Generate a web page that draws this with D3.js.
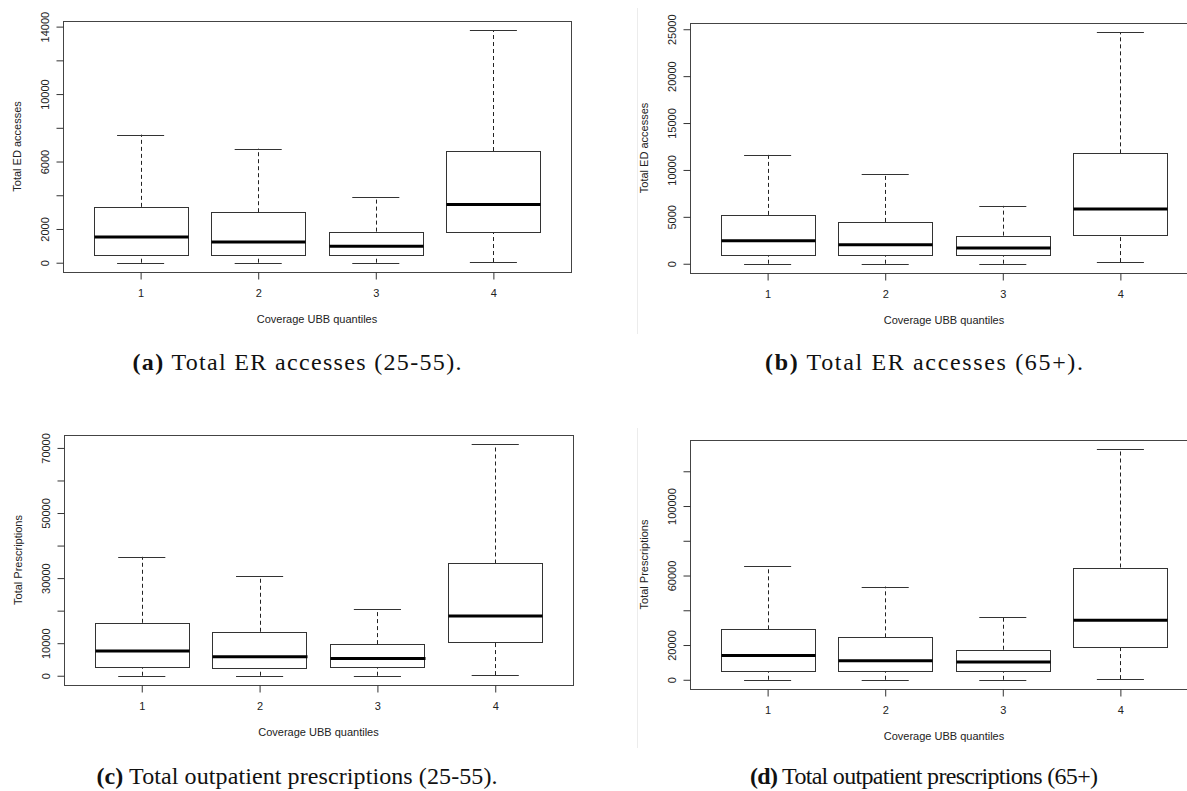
<!DOCTYPE html>
<html>
<head>
<meta charset="utf-8">
<script src="https://cdn.jsdelivr.net/npm/d3@7"></script>
<style>
  body { margin: 0; background: #fff; }
  .axis text { font-family: "Liberation Sans", Arial, sans-serif; font-size: 11px; fill: #222; }
  .axis line { stroke: #333; }
  .axisTitle { font-family: "Liberation Sans", Arial, sans-serif; font-size: 11px; fill: #222; }
  .caption { font-family: "Liberation Serif", "Times New Roman", serif; font-size: 24px; fill: #111; }
</style>
</head>
<body>
<div class="chart"></div>
<script>
var svgWidth = 1187;
var svgHeight = 791;

// Data: five-number summaries per quantile group [lower whisker, Q1, median, Q3, upper whisker]
var groups = [1, 2, 3, 4];

var erYoung = [
  [0, 456, 1527, 3311, 7595],
  [0, 456, 1229, 2994, 6762],
  [0, 456, 972, 1844, 3906],
  [40, 1824, 3450, 6623, 13782]
];
var erOld = [
  [0, 927, 2461, 5207, 11626],
  [0, 927, 2033, 4458, 9593],
  [0, 927, 1676, 2996, 6170],
  [178, 3067, 5849, 11769, 24679]
];
var rxYoung = [
  [0, 2558, 7573, 16272, 36536],
  [0, 2354, 5833, 13509, 30498],
  [0, 2558, 5322, 9723, 20366],
  [205, 10234, 18319, 34490, 71129]
];
var rxOld = [
  [0, 5000, 14038, 29038, 65385],
  [0, 5000, 10962, 24423, 53654],
  [0, 5000, 10192, 17308, 36154],
  [385, 18846, 34231, 64615, 132692]
];

// Tick values and which of them get labels
var erYoungTicks = [0, 2000, 4000, 6000, 8000, 10000, 12000, 14000];
var erYoungLabels = [0, 2000, 6000, 10000, 14000];
var erOldTicks = [0, 5000, 10000, 15000, 20000, 25000];
var erOldLabels = [0, 5000, 10000, 15000, 20000, 25000];
var rxYoungTicks = [0, 10000, 20000, 30000, 40000, 50000, 60000, 70000];
var rxYoungLabels = [0, 10000, 30000, 50000, 70000];
var rxOldTicks = [0, 20000, 40000, 60000, 80000, 100000, 120000];
var rxOldLabels = [0, 20000, 60000, 100000];

var panels = [
  { stats: erYoung, ticks: erYoungTicks, labels: erYoungLabels, yTitle: "Total ED accesses",
    box: { left: 63, right: 571, top: 21, bottom: 272 } },
  { stats: erOld, ticks: erOldTicks, labels: erOldLabels, yTitle: "Total ED accesses",
    box: { left: 690, right: 1198, top: 23, bottom: 273 } },
  { stats: rxYoung, ticks: rxYoungTicks, labels: rxYoungLabels, yTitle: "Total Prescriptions",
    box: { left: 64, right: 573, top: 435, bottom: 685 } },
  { stats: rxOld, ticks: rxOldTicks, labels: rxOldLabels, yTitle: "Total Prescriptions",
    box: { left: 690, right: 1198, top: 440, bottom: 689 } }
];

var captions = [
  { tag: "(a)", text: " Total ER accesses (25-55).", x: 297, y: 370, len: 329 },
  { tag: "(b)", text: " Total ER accesses (65+).", x: 924, y: 370, len: 318 },
  { tag: "(c)", text: " Total outpatient prescriptions (25-55).", x: 297, y: 784, len: 401 },
  { tag: "(d)", text: " Total outpatient prescriptions (65+)", x: 924, y: 784, len: 348 }
];

var svg = d3.select(".chart")
  .append("svg")
  .attr("width", svgWidth)
  .attr("height", svgHeight)
  .style("display", "block");

svg.append("rect").attr("width", svgWidth).attr("height", svgHeight).attr("fill", "#fff");

// faint border of the embedded right-hand images
svg.append("line").attr("x1", 637.5).attr("x2", 637.5).attr("y1", 8).attr("y2", 334)
  .attr("stroke", "#ececec");
svg.append("line").attr("x1", 637.5).attr("x2", 637.5).attr("y1", 428).attr("y2", 748)
  .attr("stroke", "#ececec");

panels.forEach(function(p) {
  var b = p.box;
  var lo = d3.min(p.stats, d => d[0]);
  var hi = d3.max(p.stats, d => d[4]);
  var pad = (hi - lo) * 0.04;

  // R-style scales: 4% extension on each side
  var x = d3.scaleLinear().domain([0.34, 4.66]).range([b.left, b.right]);
  var y = d3.scaleLinear().domain([lo - pad, hi + pad]).range([b.bottom, b.top]);

  var g = svg.append("g");

  // Boxes
  var bw = x(1.4) - x(1);
  var cw = x(1.2) - x(1);
  var boxes = g.selectAll(".bx")
    .data(p.stats)
    .enter()
    .append("g");

  // dashed whiskers
  boxes.append("line")
    .attr("x1", (d, i) => Math.round(x(groups[i])) + 0.5)
    .attr("x2", (d, i) => Math.round(x(groups[i])) + 0.5)
    .attr("y1", d => y(d[3]))
    .attr("y2", d => y(d[4]))
    .attr("stroke", "#222")
    .attr("stroke-dasharray", "4,3");
  boxes.append("line")
    .attr("x1", (d, i) => Math.round(x(groups[i])) + 0.5)
    .attr("x2", (d, i) => Math.round(x(groups[i])) + 0.5)
    .attr("y1", d => y(d[0]))
    .attr("y2", d => y(d[1]))
    .attr("stroke", "#222")
    .attr("stroke-dasharray", "4,3");

  // caps
  boxes.append("line")
    .attr("x1", (d, i) => x(groups[i]) - cw)
    .attr("x2", (d, i) => x(groups[i]) + cw)
    .attr("y1", d => Math.round(y(d[4])) + 0.5)
    .attr("y2", d => Math.round(y(d[4])) + 0.5)
    .attr("stroke", "#333");
  boxes.append("line")
    .attr("x1", (d, i) => x(groups[i]) - cw)
    .attr("x2", (d, i) => x(groups[i]) + cw)
    .attr("y1", d => Math.round(y(d[0])) + 0.5)
    .attr("y2", d => Math.round(y(d[0])) + 0.5)
    .attr("stroke", "#333");

  // box body
  boxes.append("rect")
    .attr("x", (d, i) => Math.round(x(groups[i]) - bw) + 0.5)
    .attr("width", Math.round(2 * bw))
    .attr("y", d => Math.round(y(d[3])) + 0.5)
    .attr("height", d => Math.round(y(d[1])) - Math.round(y(d[3])))
    .attr("fill", "#fff")
    .attr("stroke", "#333");

  // median
  boxes.append("line")
    .attr("x1", (d, i) => Math.round(x(groups[i]) - bw) + 0.5)
    .attr("x2", (d, i) => Math.round(x(groups[i]) + bw) + 0.5)
    .attr("y1", d => y(d[2]))
    .attr("y2", d => y(d[2]))
    .attr("stroke", "#000")
    .attr("stroke-width", 3);

  // Frame
  g.append("rect")
    .attr("x", b.left + 0.5)
    .attr("y", b.top + 0.5)
    .attr("width", b.right - b.left)
    .attr("height", b.bottom - b.top)
    .attr("fill", "none")
    .attr("stroke", "#444");

  // Y axis
  var leftAxis = d3.axisLeft(y)
    .tickValues(p.ticks)
    .tickSizeOuter(0)
    .tickSizeInner(7)
    .tickFormat(v => p.labels.indexOf(v) >= 0 ? String(v) : "");

  var ya = g.append("g")
    .attr("class", "axis")
    .attr("transform", `translate(${b.left + 0.5}, 0)`)
    .call(leftAxis);
  ya.select(".domain").remove();
  ya.selectAll("text")
    .attr("transform", "rotate(-90)")
    .attr("x", 0)
    .attr("y", -15)
    .attr("dy", null)
    .attr("text-anchor", "middle");

  // X axis
  var bottomAxis = d3.axisBottom(x)
    .tickValues(groups)
    .tickSizeOuter(0)
    .tickSizeInner(7)
    .tickFormat(d3.format("d"));

  var xa = g.append("g")
    .attr("class", "axis")
    .attr("transform", `translate(0, ${b.bottom + 0.5})`)
    .call(bottomAxis);
  xa.select(".domain").remove();
  xa.selectAll("text")
    .attr("y", 24)
    .attr("dy", null);

  // Labels
  g.append("text")
    .attr("class", "axisTitle")
    .attr("text-anchor", "middle")
    .attr("x", (b.left + b.right) / 2)
    .attr("y", b.bottom + 51)
    .text("Coverage UBB quantiles");

  g.append("text")
    .attr("class", "axisTitle")
    .attr("text-anchor", "middle")
    .attr("transform", `translate(${b.left - 42}, ${(b.top + b.bottom) / 2}) rotate(-90)`)
    .text(p.yTitle);
});

// Sub-figure captions
captions.forEach(function(c) {
  var t = svg.append("text")
    .attr("class", "caption")
    .attr("text-anchor", "middle")
    .attr("x", c.x)
    .attr("y", c.y)
    .attr("textLength", c.len)
    .attr("lengthAdjust", "spacing");
  t.append("tspan").attr("font-weight", "bold").text(c.tag);
  t.append("tspan").text(c.text);
});
</script>
</body>
</html>
